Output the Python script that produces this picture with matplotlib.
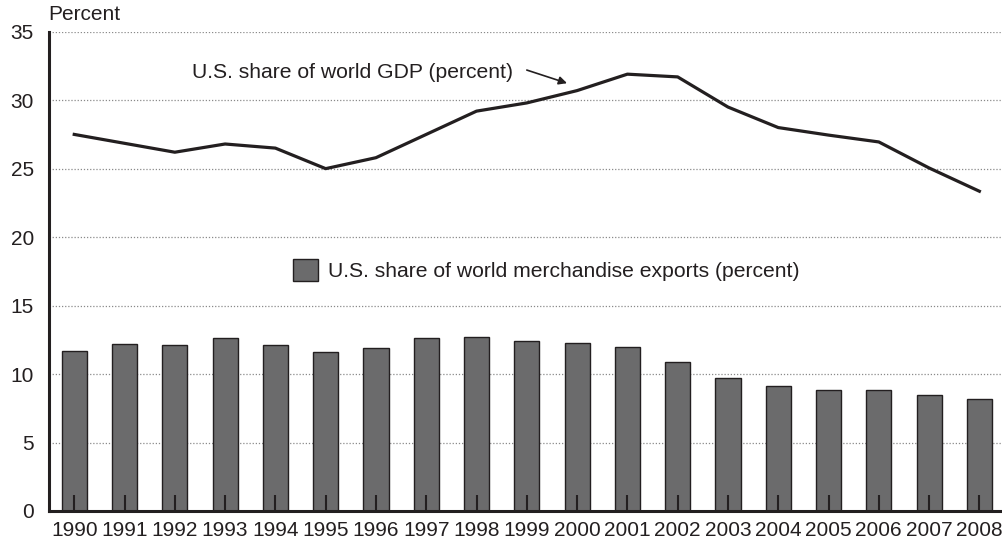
import numpy as np
import matplotlib
matplotlib.use('Agg')
from matplotlib import pyplot as plt

# данные
years = [1990, 1991, 1992, 1993, 1994, 1995, 1996, 1997, 1998, 1999,
         2000, 2001, 2002, 2003, 2004, 2005, 2006, 2007, 2008]
gdp_share = [27.5, 26.85, 26.2, 26.8, 26.5, 25.0, 25.8, 27.5, 29.2, 29.8,
             30.7, 31.9, 31.7, 29.5, 28.0, 27.45, 26.95, 25.05, 23.35]
export_share = [11.7, 12.2, 12.1, 12.6, 12.1, 11.6, 11.9, 12.6, 12.7, 12.4,
                12.3, 12.0, 10.9, 9.7, 9.1, 8.8, 8.8, 8.5, 8.2]
yticks = [0, 5, 10, 15, 20, 25, 30, 35]

ink = '#231f20'
plt.rcParams['font.family'] = ['Liberation Sans', 'DejaVu Sans']

fig = plt.figure(figsize=(10.02, 5.44), dpi=100)
ax = fig.add_axes([0.049, 0.0607, 0.951, 0.881])

for y in yticks[1:]:
    ax.axhline(y, color='#8a8a8a', lw=0.9, ls=(0, (1, 1.5)), zorder=0.5)

ax.bar(years, export_share, width=0.5, color='#6b6b6c', edgecolor=ink,
       linewidth=1.0, zorder=1, label='U.S. share of world merchandise exports (percent)')
ax.plot(years, gdp_share, color=ink, lw=2.3, zorder=3)

ax.set_xlim(1989.5, 2008.45)
ax.set_ylim(0, 35)
ax.set_xticks(years)
ax.set_yticks(yticks)
ax.tick_params(axis='x', direction='in', length=11.5, width=1.5, color=ink,
               labelsize=15, labelcolor=ink, pad=7)
ax.tick_params(axis='y', length=0, labelsize=15, labelcolor=ink, pad=11)

for s in ['top', 'right']:
    ax.spines[s].set_visible(False)
ax.spines['left'].set_linewidth(2.2)
ax.spines['bottom'].set_linewidth(2.2)
ax.spines['left'].set_color(ink)
ax.spines['bottom'].set_color(ink)

fig.text(48 / 1002, 1 - 15 / 544, 'Percent', fontsize=15, color=ink,
         ha='left', va='center')

ax.text(1992.35, 32.0, 'U.S. share of world GDP (percent)', fontsize=15.2,
        color=ink, va='center', ha='left')
ax.annotate('', xy=(1999.8, 31.24), xytext=(1999.0, 32.2),
            arrowprops=dict(arrowstyle='-|>', color=ink, lw=1.2,
                            mutation_scale=12, shrinkA=0, shrinkB=0))

ax.legend(loc='center left', bbox_to_anchor=(0.236, 0.503), frameon=False,
          fontsize=15.2, handlelength=1.2, handleheight=1.25, handletextpad=0.45,
          labelcolor=ink)

fig.savefig('out.png', dpi=100)
